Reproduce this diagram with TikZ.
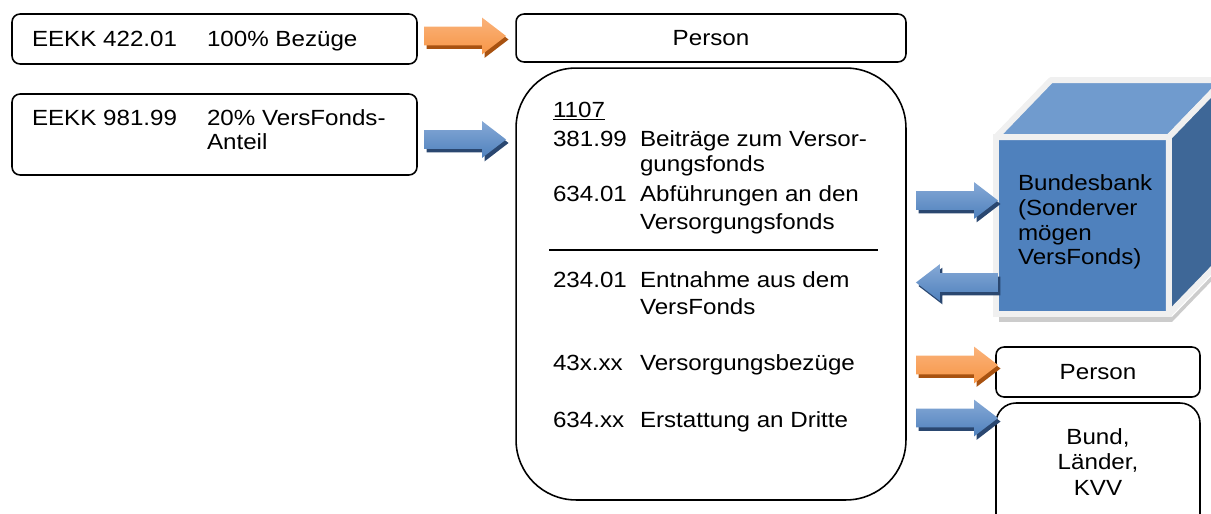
\documentclass[tikz,border=0pt]{standalone}
\usepackage{fontspec}
\setmainfont{Liberation Sans}[FakeStretch=1.1]
\usetikzlibrary{shapes.arrows,shadows,calc,backgrounds}
\definecolor{bankfront}{HTML}{4F81BD}
\definecolor{banktop}{HTML}{709BCE}
\definecolor{bankside}{HTML}{3E6797}
\definecolor{bankrand}{HTML}{F0F0F0}
\definecolor{blauL}{HTML}{86A9D6}
\definecolor{blau}{HTML}{4F81BD}
\definecolor{blauD}{HTML}{2A4770}
\definecolor{orangeL}{HTML}{FAB27A}
\definecolor{orange}{HTML}{F79646}
\definecolor{orangeD}{HTML}{A85210}
\begin{document}
\begin{tikzpicture}[x=0.02cm,y=-0.02cm,inner sep=0pt,outer sep=0pt,line width=0.9pt,
font=\fontsize{12.5}{13.3}\selectfont,
kasten/.style={draw,rectangle,rounded corners=0.16cm},
pfeil/.style={single arrow,draw=none,minimum height=1.64cm,single arrow head extend=0.18cm,single arrow tip angle=75,text height=0.34cm,text depth=0pt,text width=0pt},
pfeilorange/.style={pfeil,top color=orangeL,bottom color=orange,drop shadow={shadow xshift=0.05cm,shadow yshift=-0.07cm,fill=orangeD,opacity=1}},
pfeilblau/.style={pfeil,top color=blauL,bottom color=blau,drop shadow={shadow xshift=0.05cm,shadow yshift=-0.07cm,fill=blauD,opacity=1}}]
\useasboundingbox (0,0) rectangle (1211,514);
\clip (0,0) rectangle (1211,514);
% linke Kaesten
\draw (214.5,39) node[kasten,minimum width=8.1cm,minimum height=1cm] (eekk1) {};
\draw (214.5,134.5) node[kasten,minimum width=8.1cm,minimum height=1.62cm] (eekk2) {};
\draw (32,46) node[anchor=base west] (eekk1nr) {EEKK 422.01};
\draw (207,46) node[anchor=base west] (eekk1txt) {100\% Bezüge};
\draw (32,125) node[anchor=base west] (eekk2nr) {EEKK 981.99};
\draw (207,125) node[anchor=base west] (eekk2txt) {20\% VersFonds-};
\draw (207,149) node[anchor=base west] (eekk2txtb) {Anteil};
% Mitte
\draw (711,38) node[kasten,minimum width=7.8cm,minimum height=0.96cm] (person1) {Person};
\draw (711,284) node[kasten,rounded corners=1.2cm,minimum width=7.8cm,minimum height=8.64cm] (konto) {};
\draw (553,117) node[anchor=base west] (kap) {\underline{1107}};
\draw (553,146) node[anchor=base west] (nr1) {381.99};
\draw (640,146) node[anchor=base west] (txt1) {Beiträge zum Versor-};
\draw (640,171) node[anchor=base west] (txt1b) {gungsfonds};
\draw (553,201) node[anchor=base west] (nr2) {634.01};
\draw (640,201) node[anchor=base west] (txt2) {Abführungen an den};
\draw (640,229) node[anchor=base west] (txt2b) {Versorgungsfonds};
\draw (549,250) coordinate (strichl) -- (878,250) coordinate (strichr);
\draw (553,287) node[anchor=base west] (nr3) {234.01};
\draw (640,287) node[anchor=base west] (txt3) {Entnahme aus dem};
\draw (640,314) node[anchor=base west] (txt3b) {VersFonds};
\draw (553,370) node[anchor=base west] (nr4) {43x.xx};
\draw (640,370) node[anchor=base west] (txt4) {Versorgungsbezüge};
\draw (553,427) node[anchor=base west] (nr5) {634.xx};
\draw (640,427) node[anchor=base west] (txt5) {Erstattung an Dritte};
% Bundesbank-Wuerfel
\draw (1082.5,225.5) node[fill=bankfront,draw=bankrand,line width=0.12cm,minimum width=3.46cm,minimum height=3.54cm] (bank) {};
\begin{scope}[on background layer]
\fill[gray!40] ($(bank.south west)+(3,3)$) -- ++(173,0) -- ++(55,-57) -- ++(0,5) -- ++(-55,57) -- ++(-173,0) -- cycle;
\end{scope}
\draw[fill=banktop,draw=bankrand,line width=0.12cm,line join=round] (bank.north west) -- ++(55,-57) -- ++(173,0) -- (bank.north east) -- cycle;
\draw[fill=bankside,draw=bankrand,line width=0.12cm,line join=round] (bank.north east) -- ++(55,-57) -- ++(0,177) -- (bank.south east) -- cycle;
\draw (1018,222) node[anchor=west,align=left,font=\fontsize{12.5}{14.1}\selectfont] (banktxt) {Bundesbank\\(Sonderver\\mögen\\VersFonds)};
% rechte Kaesten
\draw (1098,372) node[kasten,minimum width=4.08cm,minimum height=1cm] (person2) {Person};
\draw (1098,471.5) node[kasten,rounded corners=0.4cm,minimum width=4.08cm,minimum height=2.74cm] (dritte) {};
\draw (1098,462) node[align=center,font=\fontsize{12.5}{14.3}\selectfont] (drittetxt) {Bund,\\Länder,\\KVV};
% Pfeile
\node[pfeilorange,anchor=tip] (pf1) at ($(person1.west |- eekk1)+(-10,-3)$) {};
\node[pfeilblau,anchor=tip] (pf2) at ($(konto.west |- eekk2)+(-10,5)$) {};
\node[pfeilblau,anchor=tip] (pf3) at ($(bank.west)+(2,-25)$) {};
\node[pfeilblau,anchor=tip,shape border rotate=180] (pf4) at ($(konto.east |- bank.west)+(10,57)$) {};
\node[pfeilorange,anchor=tip] (pf5) at ($(person2.west)+(2,-7)$) {};
\node[pfeilblau,anchor=tip] (pf6) at ($(dritte.north west)+(2,15)$) {};
\end{tikzpicture}
\end{document}
